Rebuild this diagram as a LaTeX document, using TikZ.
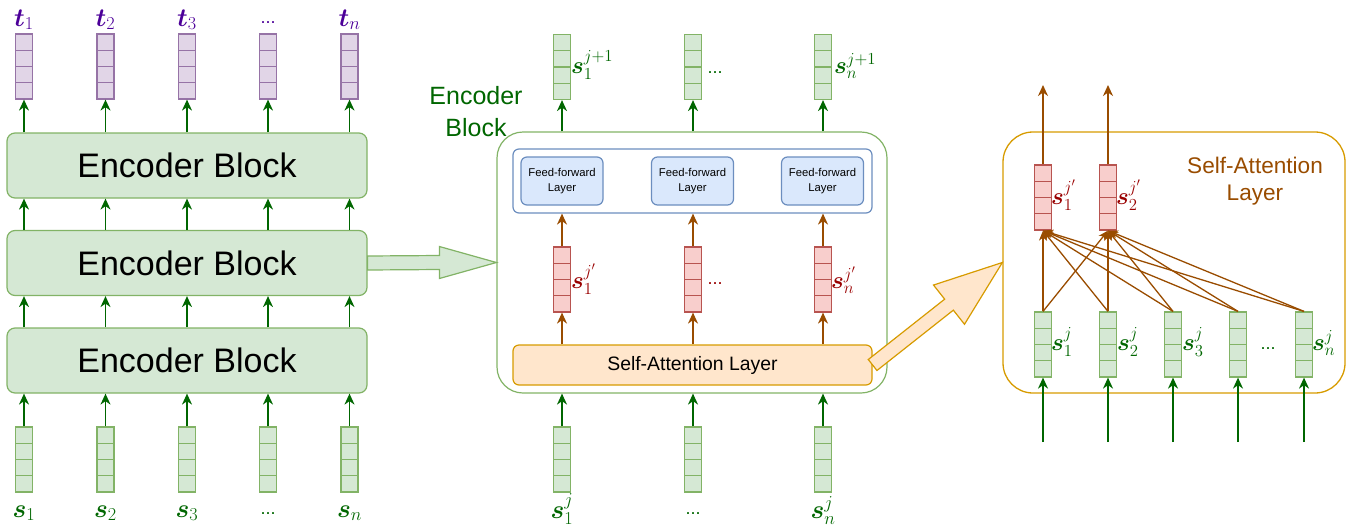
\RequirePackage{fix-cm}
\documentclass[tikz,border=0pt]{standalone}
\usepackage{amsmath}
\usepackage[no-math]{fontspec}
\setmainfont{Liberation Sans}
\usetikzlibrary{arrows.meta,calc}

\definecolor{gfill}{HTML}{D5E8D4}
\definecolor{gline}{HTML}{82B366}
\definecolor{darkg}{HTML}{006600}
\definecolor{pfill}{HTML}{E1D5E7}
\definecolor{pline}{HTML}{9673A6}
\definecolor{ptext}{HTML}{4C0099}
\definecolor{rfill}{HTML}{F8CECC}
\definecolor{rline}{HTML}{B85450}
\definecolor{rtext}{HTML}{990000}
\definecolor{bfill}{HTML}{DAE8FC}
\definecolor{bline}{HTML}{6C8EBF}
\definecolor{ofill}{HTML}{FFE6CC}
\definecolor{oline}{HTML}{D79B00}
\definecolor{brown}{HTML}{994C00}

\tikzset{
  vec/.style 2 args={rectangle, inner sep=0pt, minimum width=17pt, minimum height=65pt,
    fill=#1, draw=#2, line width=1.2pt,
    path picture={\foreach \k in {1,2,3}
      \draw[#2, line width=1.2pt]
        ($(path picture bounding box.north west)!\k/4!(path picture bounding box.south west)$) --
        ($(path picture bounding box.north east)!\k/4!(path picture bounding box.south east)$);}},
  vecg/.style={vec={gfill}{gline}},
  vecp/.style={vec={pfill}{pline}},
  vecr/.style={vec={rfill}{rline}},
  garrow/.style={draw=darkg, line width=1.6pt, -{Stealth[length=11pt,width=10pt,inset=3.5pt]}},
  barrow/.style={draw=brown, line width=1.6pt, -{Stealth[length=11pt,width=10pt,inset=3.5pt]}},
  attn/.style={draw=brown, line width=1.3pt, -{Stealth[length=10pt,width=8pt,inset=3pt]}},
  encblk/.style={rectangle, rounded corners=8pt, fill=gfill, draw=gline, line width=1.2pt,
    minimum width=360pt, minimum height=65pt, font=\fontsize{34}{40}\selectfont},
  ffbox/.style={rectangle, rounded corners=6pt, fill=bfill, draw=bline, line width=1.2pt,
    minimum width=82pt, minimum height=48pt, align=center, inner sep=0pt,
    font=\fontsize{11.3}{15}\selectfont},
  lab/.style={anchor=base, inner sep=0pt, font=\fontsize{26}{30}\selectfont},
  labw/.style={anchor=base west, inner sep=0pt, font=\fontsize{24}{28}\selectfont},
  dots/.style={anchor=base, inner sep=0pt, font=\fontsize{18}{20}\selectfont},
}

\begin{document}
\begin{tikzpicture}[x=1pt,y=-1pt]
\useasboundingbox (0,0) rectangle (1354,528);

% ---------- stack of encoder blocks ----------
\node[encblk] (e1) at (187,165.5) {Encoder Block};
\node[encblk] (e2) at (187,263) {Encoder Block};
\node[encblk] (e3) at (187,360.5) {Encoder Block};

\foreach \i/\x in {1/24,2/105.5,3/187,4/268,5/349.5} {
  \node[vecp] (t\i) at (\x,66.5) {};
  \node[vecg] (s\i) at (\x,459.5) {};
  \draw[garrow] (s\i.north) -- (s\i.north |- e3.south);
  \draw[garrow] (s\i.north |- e3.north) -- (s\i.north |- e2.south);
  \draw[garrow] (s\i.north |- e2.north) -- (s\i.north |- e1.south);
  \draw[garrow] (t\i.south |- e1.north) -- (t\i.south);
}
\node[lab, text=ptext] (lt1) at (24,26) {$\boldsymbol{t}_1$};
\node[lab, text=ptext] (lt2) at (105.5,26) {$\boldsymbol{t}_2$};
\node[lab, text=ptext] (lt3) at (187,26) {$\boldsymbol{t}_3$};
\node[dots, text=ptext] (lt4) at (268,23) {...};
\node[lab, text=ptext] (lt5) at (349.5,26) {$\boldsymbol{t}_n$};
\node[lab, text=darkg] (ls1) at (24,517) {$\boldsymbol{s}_1$};
\node[lab, text=darkg] (ls2) at (105.5,517) {$\boldsymbol{s}_2$};
\node[lab, text=darkg] (ls3) at (187,517) {$\boldsymbol{s}_3$};
\node[dots, text=darkg] (ls4) at (268,514) {...};
\node[lab, text=darkg] (ls5) at (349.5,517) {$\boldsymbol{s}_n$};

% ---------- one encoder block in detail ----------
\node[rectangle, rounded corners=26pt, draw=gline, line width=1.2pt,
      minimum width=390pt, minimum height=261pt] (eb) at (692,262.5) {};
\node[align=center, text=darkg, font=\fontsize{25}{32}\selectfont] (ebl) at (476,112) {Encoder\\Block};

\node[rectangle, rounded corners=6pt, draw=bline, fill=white, line width=1.2pt,
      minimum width=359pt, minimum height=64pt] (ffg) at (692.5,181) {};
\node[ffbox] (ff1) at (562,181) {Feed-forward\\Layer};
\node[ffbox] (ff2) at (692.5,181) {Feed-forward\\Layer};
\node[ffbox] (ff3) at (822.5,181) {Feed-forward\\Layer};

\node[rectangle, rounded corners=6pt, fill=ofill, draw=oline, line width=1.2pt,
      minimum width=359pt, minimum height=40pt, font=\fontsize{19.4}{24}\selectfont] (sa) at (692.5,365) {Self-Attention Layer};

\foreach \i/\x in {1/562,2/693,3/823} {
  \node[vecg] (mo\i) at (\x,67) {};
  \node[vecr] (mr\i) at (\x,279.5) {};
  \node[vecg] (mi\i) at (\x,459.5) {};
  \draw[garrow] (mo\i.south |- eb.north) -- (mo\i.south);
  \draw[barrow] (mr\i.north) -- (mr\i.north |- ffg.south);
  \draw[barrow] (mr\i.south |- sa.north) -- (mr\i.south);
  \draw[garrow] (mi\i.north) -- (mi\i.north |- eb.south);
}
\node[labw, text=darkg] (lmo1) at (571,73) {$\boldsymbol{s}_1^{j+1}$};
\node[dots, text=darkg] (lmo2) at (715,73) {...};
\node[labw, text=darkg] (lmo3) at (834,73) {$\boldsymbol{s}_n^{j+1}$};
\node[labw, text=rtext] (lmr1) at (571,288) {$\boldsymbol{s}_1^{j'}$};
\node[dots, text=rtext] (lmr2) at (715,284) {...};
\node[labw, text=rtext] (lmr3) at (831,288) {$\boldsymbol{s}_n^{j'}$};
\node[lab, text=darkg] (lmi1) at (562,518) {$\boldsymbol{s}_1^{j}$};
\node[dots, text=darkg] (lmi2) at (693,514) {...};
\node[lab, text=darkg] (lmi3) at (823,518) {$\boldsymbol{s}_n^{j}$};

% ---------- self-attention layer in detail ----------
\node[rectangle, rounded corners=30pt, draw=oline, line width=1.3pt,
      minimum width=342pt, minimum height=261pt] (sal) at (1174,262.5) {};
\node[align=center, text=brown, font=\fontsize{22.6}{27}\selectfont] (sall) at (1255,181) {Self-Attention\\Layer};

\foreach \i/\x in {1/1043,2/1108} {
  \node[vecr] (rr\i) at (\x,197.5) {};
  \coordinate (ru\i) at (\x,85);
  \draw[barrow] (rr\i.north) -- (ru\i);
}
\foreach \i/\x in {1/1043,2/1108,3/1173,4/1238,5/1304} {
  \node[vecg] (rg\i) at (\x,344.5) {};
  \coordinate (rin\i) at (\x,442);
  \draw[garrow] (rin\i) -- (rg\i.south);
}
\foreach \i in {1,...,5} {
  \foreach \r in {1,2} {
    \draw[attn] (rg\i.north) -- (rr\r.south);
  }
}
\node[labw, text=rtext] (lrr1) at (1051,204) {$\boldsymbol{s}_1^{j'}$};
\node[labw, text=rtext] (lrr2) at (1116,204) {$\boldsymbol{s}_2^{j'}$};
\node[labw, text=darkg] (lrg1) at (1051,350) {$\boldsymbol{s}_1^{j}$};
\node[labw, text=darkg] (lrg2) at (1117,350) {$\boldsymbol{s}_2^{j}$};
\node[labw, text=darkg] (lrg3) at (1182,350) {$\boldsymbol{s}_3^{j}$};
\node[dots, text=darkg] (lrg4) at (1268,349) {...};
\node[labw, text=darkg] (lrg5) at (1312,350) {$\boldsymbol{s}_n^{j}$};

% ---------- block arrows ----------
\draw[fill=gfill, draw=gline, line width=1.2pt]
  ($(e2.east)+(0,-7)$) -- ($(eb.west)+(-57,-7)$) -- ($(eb.west)+(-57,-16)$) -- (eb.west)
  -- ($(eb.west)+(-57,16)$) -- ($(eb.west)+(-57,7)$) -- ($(e2.east)+(0,7)$) -- cycle;

\coordinate (oa) at (sa.east);
\coordinate (ob) at (sal.west);
\coordinate (oh) at ($(ob)!68pt!(oa)$);
\draw[fill=ofill, draw=oline, line width=1.2pt, line join=miter]
  ($(oa)!7pt!90:(ob)$) -- ($(oh)!7pt!-90:(oa)$) -- ($(oh)!25pt!-90:(oa)$) -- (ob)
  -- ($(oh)!25pt!90:(oa)$) -- ($(oh)!7pt!90:(oa)$) -- ($(oa)!7pt!-90:(ob)$) -- cycle;
\end{tikzpicture}
\end{document}
